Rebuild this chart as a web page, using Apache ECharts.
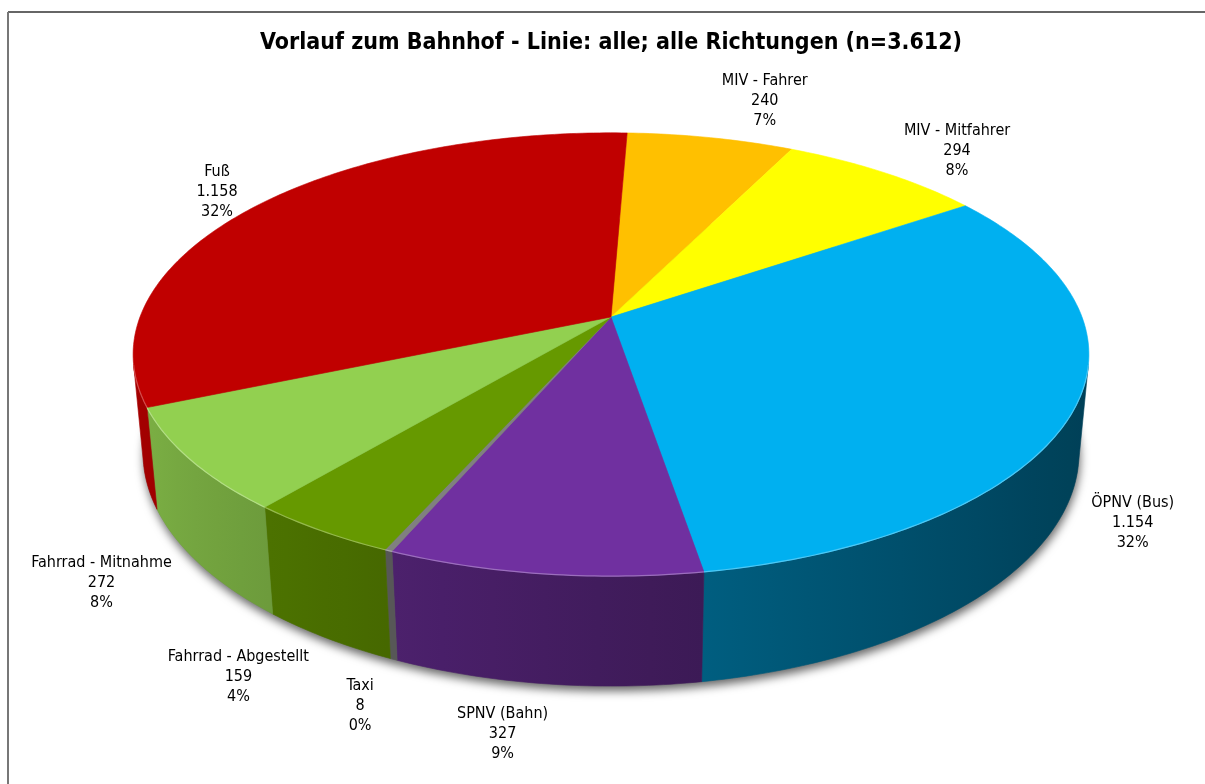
<!DOCTYPE html>
<html>
<head>
<meta charset="UTF-8">
<title>Vorlauf zum Bahnhof</title>
<script src="https://cdn.jsdelivr.net/npm/echarts@6/dist/echarts.min.js"></script>
<style>
  html, body { margin: 0; padding: 0; background: #fff; }
  #main { width: 1205px; height: 784px; }
</style>
</head>
<body>
<div id="main"></div>
<script>
// data, clockwise starting just right of the back edge
const categories = ['MIV - Fahrer', 'MIV - Mitfahrer', 'ÖPNV (Bus)', 'SPNV (Bahn)', 'Taxi', 'Fahrrad - Abgestellt', 'Fahrrad - Mitnahme', 'Fuß'];
const values = [240, 294, 1154, 327, 8, 159, 272, 1158];
const colors = ['#FFC000', '#FFFF00', '#00B0F0', '#7030A0', '#808080', '#669900', '#92D050', '#C00000'];

const FONT = "'DejaVu Sans Condensed', 'DejaVu Sans', sans-serif";
const total = values.reduce((a, b) => a + b, 0);
const fmt = v => String(v).replace(/\B(?=(\d{3})+(?!\d))/g, '.');

// slice angles in degrees, 0 = back, 90 = right, 180 = front
const startDeg = 2.3;
const angles = [];
let acc = startDeg;
values.forEach(v => {
  const a0 = acc;
  acc += v / total * 360;
  angles.push([a0, acc]);
});

// small perspective camera for the tilted disk
const CX = 611, CY = 317, FOC = 2479, RAD = 0.19, DEPTH = 0.0449;
const tilt = 27.2 * Math.PI / 180, ts = Math.sin(tilt), tc = Math.cos(tilt);
const FRONT_MIN = Math.acos(-RAD / tc) * 180 / Math.PI;
const FRONT_MAX = 360 - FRONT_MIN;

function project(deg, rho, y) {
  const a = deg * Math.PI / 180;
  const X = RAD * rho * Math.sin(a);
  const Z = RAD * rho * Math.cos(a);
  const yc = Z * ts + y * tc;
  const zc = 1 + Z * tc - y * ts;
  return [CX + FOC * X / zc, CY - FOC * yc / zc];
}

function arc(a0, a1, rho, y) {
  const n = Math.max(2, Math.ceil((a1 - a0) / 0.8));
  const pts = [];
  for (let k = 0; k <= n; k++) pts.push(project(a0 + (a1 - a0) * k / n, rho, y));
  return pts;
}

function shade(hex, k) {
  const n = parseInt(hex.slice(1), 16);
  const c = [(n >> 16) & 255, (n >> 8) & 255, n & 255].map(v => Math.round(Math.min(255, v * k)));
  return 'rgb(' + c.join(',') + ')';
}
function tint(hex, t) {
  const n = parseInt(hex.slice(1), 16);
  const c = [(n >> 16) & 255, (n >> 8) & 255, n & 255].map(v => Math.round(v + (255 - v) * t));
  return 'rgb(' + c.join(',') + ')';
}
// side lighting, light comes from the left
const light = deg => 0.62 - 0.255 * Math.sin((deg - 10) * Math.PI / 180);

// label nudges (px) from the computed anchor
const labelNudge = [[39, -10], [30, 1], [-21, -5], [-28, -10], [14, -7], [-28, -10], [-15, -12], [17, 4]];

function renderItem(params, api) {
  const i = params.dataIndex;
  const [a0, a1] = angles[i];
  const base = colors[i];
  const children = [];

  if (i === 0) {
    const pts = arc(0, 360, 1, -DEPTH);
    children.push({
      type: 'polygon', z2: 0, shape: { points: pts },
      style: { fill: '#777', shadowBlur: 10, shadowColor: 'rgba(0,0,0,0.6)', shadowOffsetX: 1, shadowOffsetY: 5 }
    });
  }

  // visible outer wall
  const w0 = Math.max(a0, FRONT_MIN), w1 = Math.min(a1, FRONT_MAX);
  if (w1 > w0) {
    const top = arc(w0, w1, 1, 0);
    const bot = arc(w0, w1, 1, -DEPTH).reverse();
    const midX = a => (project(a, 1, 0)[0] + project(a, 1, -DEPTH)[0]) / 2;
    const xl = midX(w1), xr = midX(w0);
    const stops = [];
    for (let k = 0; k <= 6; k++) {
      const a = w1 + (w0 - w1) * k / 6;
      const off = xr - xl > 0.5 ? (midX(a) - xl) / (xr - xl) : k / 6;
      stops.push({ offset: Math.min(1, Math.max(0, off)), color: shade(base, light(a)) });
    }
    const grad = { type: 'linear', x: xl, y: 0, x2: Math.max(xr, xl + 1), y2: 0, global: true, colorStops: stops };
    children.push({
      type: 'polygon', z2: 1, shape: { points: top.concat(bot) },
      style: { fill: grad, stroke: grad, lineWidth: 0.6 }
    });
  }

  // top face
  children.push({
    type: 'polygon', z2: 2, shape: { points: [[CX, CY]].concat(arc(a0, a1, 1, 0)) },
    style: { fill: base, stroke: base, lineWidth: 0.6 }
  });
  if (w1 > w0) {
    children.push({
      type: 'polyline', z2: 3, shape: { points: arc(w0, w1, 1, 0) },
      style: { fill: null, stroke: tint(base, 0.3), lineWidth: 1.2 }
    });
  }

  // label
  const mid = (a0 + a1) / 2;
  const front = Math.cos(mid * Math.PI / 180) < 0;
  const p = project(mid, 1.18, front ? -DEPTH : 0);
  const pct = Math.round(values[i] / total * 100) + '%';
  children.push({
    type: 'text', z2: 5,
    x: p[0] + labelNudge[i][0], y: p[1] + labelNudge[i][1],
    style: {
      text: categories[i] + '\n' + fmt(values[i]) + '\n' + pct,
      fill: '#000', fontSize: 16, fontFamily: FONT, lineHeight: 20,
      align: 'center', verticalAlign: 'middle', textAlign: 'center', textVerticalAlign: 'middle'
    }
  });

  return { type: 'group', children: children };
}

const chart = echarts.init(document.getElementById('main'), null, { renderer: 'canvas' });
chart.setOption({
  animation: false,
  backgroundColor: '#fff',
  title: {
    text: 'Vorlauf zum Bahnhof - Linie: alle; alle Richtungen (n=' + fmt(total) + ')',
    left: 255, top: 27,
    textStyle: { fontSize: 23, fontWeight: 'bold', fontFamily: FONT, color: '#000' }
  },
  graphic: [
    { type: 'line', shape: { x1: 8, y1: 12, x2: 1210, y2: 12 }, style: { stroke: '#333', lineWidth: 1.5 } },
    { type: 'line', shape: { x1: 8, y1: 12, x2: 8, y2: 790 }, style: { stroke: '#777', lineWidth: 2 } }
  ],
  series: [{
    type: 'custom',
    coordinateSystem: 'none',
    silent: true,
    renderItem: renderItem,
    data: values.map((v, i) => ({ name: categories[i], value: v }))
  }]
});
</script>
</body>
</html>
